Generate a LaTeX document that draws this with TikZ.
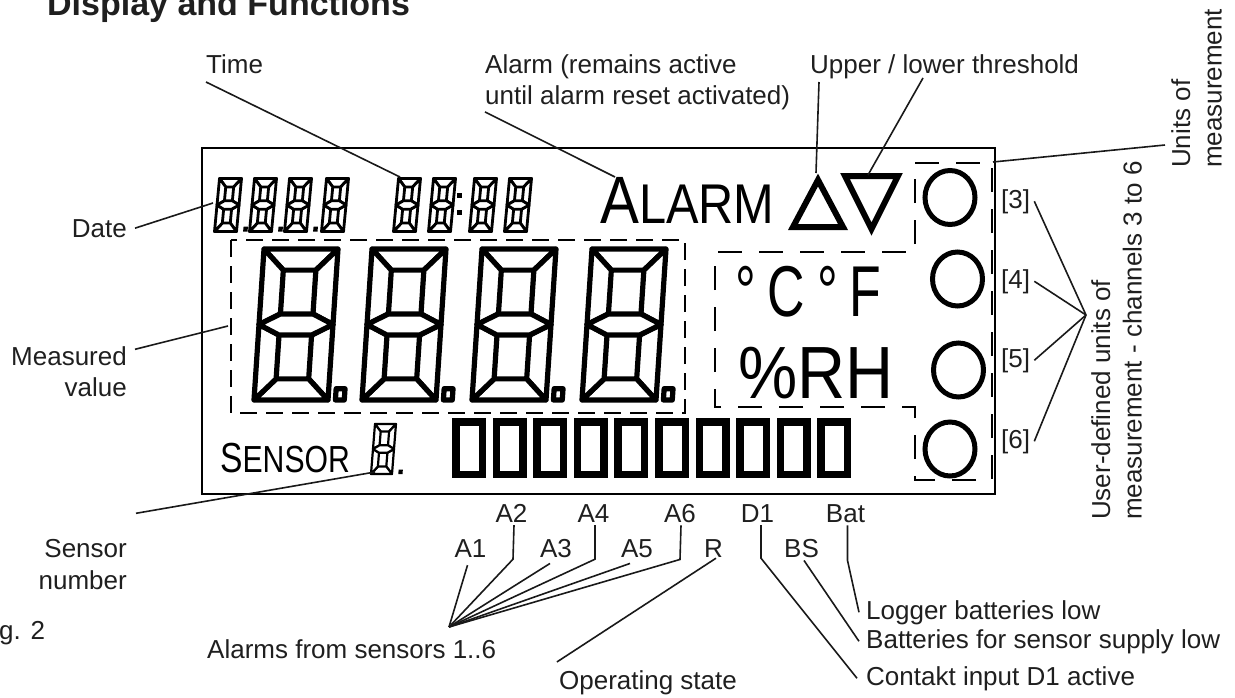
\documentclass[tikz,border=0pt]{standalone}
\usepackage{fontspec}
\setmainfont{Liberation Sans}
\usepackage{graphicx}
\newcommand\sevsegdraw[2]{%
  \begin{scope}[line width=#2]
    \path[seg] (0,2) -- (1,2) -- ({1-#1},{2-#1}) -- (#1,{2-#1}) -- cycle;
    \path[seg] (1,2) -- (1,1) -- ({1-#1},{1+#1/2}) -- ({1-#1},{2-#1}) -- cycle;
    \path[seg] (1,1) -- (1,0) -- ({1-#1},#1) -- ({1-#1},{1-#1/2}) -- cycle;
    \path[seg] (0,0) -- (1,0) -- ({1-#1},#1) -- (#1,#1) -- cycle;
    \path[seg] (0,0) -- (0,1) -- (#1,{1-#1/2}) -- (#1,#1) -- cycle;
    \path[seg] (0,1) -- (0,2) -- (#1,{2-#1}) -- (#1,{1+#1/2}) -- cycle;
    \path[seg] (0,1) -- (#1,{1+#1/2}) -- ({1-#1},{1+#1/2}) -- (1,1) -- ({1-#1},{1-#1/2}) -- (#1,{1-#1/2}) -- cycle;
  \end{scope}}
\tikzset{
  seg/.style={draw=black, fill=white, line join=round},
  pics/bigseg/.style={code={
    \sevsegdraw{0.28}{5.2pt}
    \path[seg, line width=5.2pt] (1.1,0) rectangle (1.22,0.15);
  }},
  pics/smallseg/.style={code={\sevsegdraw{0.32}{2.8pt}}},
  pics/smallsegdp/.style={code={
    \sevsegdraw{0.32}{2.8pt}
    \path[fill=black] (1.3,0) rectangle (1.5,0.18);
  }},
  pics/sensseg/.style={code={
    \sevsegdraw{0.3}{2.2pt}
    \path[fill=black] (1.3,0) rectangle (1.5,0.18);
  }},
  lbl/.style={font=\fontsize{26}{31.5}\selectfont, inner sep=0pt, text=black!88},
  lead/.style={line width=1.6pt, draw=black!90},
  dashbig/.style={line width=2pt, dash pattern=on 17pt off 9pt},
  dashunit/.style={line width=2pt, dash pattern=on 24pt off 17pt},
  bigdig/.style={xscale=74, yscale=75.5, xslant=0.0676},
  smalldig/.style={xscale=22, yscale=26.5, xslant=0.114},
  sensdig/.style={xscale=21, yscale=25, xslant=0.095},
  barcell/.style={line width=7.5pt},
  ring/.style={line width=5pt},
  tri/.style={line width=6pt, line join=miter},
}
\begin{document}
\begin{tikzpicture}[x=1pt,y=1pt]
\useasboundingbox (0,0) rectangle (1235,-697);

% title
\node[anchor=base west, inner sep=0pt, font=\bfseries\fontsize{34}{34}\selectfont, text=black!88] (title) at (47,-15) {Display and Functions};

% display frame
\draw[line width=1.3pt] (202,-148) rectangle (995,-494);

% date and time digits
\foreach \xx in {214.5,249.5,284.5} {
  \pic[smalldig] at (\xx,-231.5) {smallsegdp};
}
\pic[smalldig] at (321.5,-231.5) {smallseg};
\foreach \xx in {393.5,428.5,469.5,504.5} {
  \pic[smalldig] at (\xx,-231.5) {smallseg};
}
\fill (457,-193) rectangle (462,-198);
\fill (457,-210) rectangle (462,-215);

% big digits
\foreach \xx in {254,362,472,582} {
  \pic[bigdig] at (\xx,-400) {bigseg};
}
\draw[dashbig] (231,-240) rectangle (685,-413);

% sensor
\node[anchor=base west, inner sep=0pt] (sensortxt) at (220,-472) {\scalebox{0.8}[1]{\fontsize{42}{42}\selectfont S\fontsize{37.7}{37.7}\selectfont ENSOR}};
\pic[sensdig] at (371,-474) {sensseg};

% bar cells
\foreach \k in {0,...,9} {
  \draw[barcell] ({455.75+40.6*\k},-421.75) rectangle ++(26.5,-52.5);
}

% ALARM and triangles
\node[anchor=base west, inner sep=0pt] (alarmtxt) at (600,-223) {\scalebox{0.87}[1]{\fontsize{67}{67}\selectfont A\fontsize{56}{56}\selectfont LARM}};
\draw[tri] (818,-180) -- (793,-227) -- (843,-227) -- cycle;
\draw[tri] (845,-176) -- (898,-176) -- (871.5,-229) -- cycle;
\coordinate (triU) at (816,-173);
\coordinate (triD) at (868,-175);

% units
\node[anchor=base west, inner sep=0pt] (cf) at (735,-316) {\scalebox{0.72}[1]{\fontsize{72}{72}\selectfont °\hspace{16.7pt}C\hspace{16.7pt}°\hspace{15.3pt}F}};
\node[anchor=base west, inner sep=0pt] (rh) at (738,-398) {\scalebox{0.9}[1]{\fontsize{74}{74}\selectfont\%RH}};
\draw[dashunit] (915,-163) -- (992,-163) -- (992,-480) -- (915,-480) -- (915,-407) -- (715,-407) -- (715,-252) -- (915,-252) -- cycle;
\coordinate (ucorner) at (993,-162);

% rings
\draw[ring] (950,-197.5) ellipse [x radius=25, y radius=27];
\draw[ring] (957.5,-279) ellipse [x radius=25, y radius=27];
\draw[ring] (958.5,-370) ellipse [x radius=25, y radius=27];
\draw[ring] (950,-449) ellipse [x radius=25, y radius=27];

% channel labels
\node[lbl, anchor=base west] (u3) at (1001,-208) {[3]};
\node[lbl, anchor=base west] (u4) at (1001,-288) {[4]};
\node[lbl, anchor=base west] (u5) at (1001,-367) {[5]};
\node[lbl, anchor=base west] (u6) at (1001,-448) {[6]};
\coordinate (uconv) at (1086,-315);
\foreach \n in {u3,u4,u5,u6} { \draw[lead] ([xshift=4pt]\n.east) -- (uconv); }
\node[lbl, anchor=north west, align=left, rotate=90] (userdef) at (1091,-520) {User-defined units of\\measurement - channels 3 to 6};
\node[lbl, anchor=north west, align=left, rotate=90] (units) at (1171,-168) {Units of\\measurement};
\draw[lead] ([shift={(-6,23)}]units.north west) -- (ucorner);

% top labels
\node[lbl, anchor=base west] (time) at (206,-73) {Time};
\coordinate (pTime) at (400,-177);
\draw[lead] ([yshift=-9pt]time.base west) -- (pTime);
\node[lbl, anchor=north west, align=left] (alarm) at (485,-54.3) {Alarm (remains active\\until alarm reset activated)};
\coordinate (pAlarm) at (615,-177);
\draw[lead] ([yshift=-1.5pt]alarm.south west) -- (pAlarm);
\node[lbl, anchor=base west] (thr) at (810,-73) {Upper / lower threshold};
\draw[lead] ([shift={(9,-9)}]thr.base west) -- (triU);
\draw[lead] ([shift={(113,-5)}]thr.base west) -- (triD);

% left labels
\node[lbl, anchor=base east] (date) at (127,-237) {Date};
\coordinate (pDate) at (213,-203);
\draw[lead] ([xshift=8pt]date.east) -- (pDate);
\node[lbl, anchor=north east, align=right] (meas) at (127,-346.3) {Measured\\value};
\coordinate (pMeas) at (228,-326);
\draw[lead] ([shift={(8,-3)}]meas.north east) -- (pMeas);
\node[lbl, anchor=north east, align=right] (sens) at (127,-539.3) {Sensor\\number};
\coordinate (pSens) at (375,-472);
\draw[lead] ([shift={(9,26)}]sens.north east) -- (pSens);
\node[lbl, anchor=base west] (fig) at (-1,-639) {g. 2};

% bottom labels
\node[lbl, anchor=base] (a2) at (511.5,-522) {A2};
\node[lbl, anchor=base] (a4) at (593.5,-522) {A4};
\node[lbl, anchor=base] (a6) at (680,-522) {A6};
\node[lbl, anchor=base] (d1) at (757.5,-522) {D1};
\node[lbl, anchor=base] (bat) at (845.5,-522) {Bat};
\node[lbl, anchor=base] (a1) at (470.5,-557) {A1};
\node[lbl, anchor=base] (a3) at (556,-557) {A3};
\node[lbl, anchor=base] (a5) at (637,-557) {A5};
\node[lbl, anchor=base] (r) at (713.5,-557) {R};
\node[lbl, anchor=base] (bs) at (801.5,-557) {BS};
\node[lbl, anchor=base west] (alarms) at (207,-658) {Alarms from sensors 1..6};
\node[lbl, anchor=base] (op) at (648,-689) {Operating state};
\node[lbl, anchor=base west] (logbat) at (866,-619) {Logger batteries low};
\node[lbl, anchor=base west] (sensbat) at (866,-648) {Batteries for sensor supply low};
\node[lbl, anchor=base west] (d1act) at (866,-685) {Contakt input D1 active};

\coordinate (aconv) at (449,-627);
\draw[lead] ([shift={(-3,-8)}]a1.south) -- (aconv);
\draw[lead] ([shift={(2.5,-3)}]a2.south) -- ++(-1,-34) -- (aconv);
\draw[lead] ([shift={(-6,-6)}]a3.south) -- (aconv);
\draw[lead] ([shift={(1.5,-3)}]a4.south) -- ++(0,-34) -- (aconv);
\draw[lead] ([shift={(-7,-6)}]a5.south) -- (aconv);
\draw[lead] ([shift={(1,-3)}]a6.south) -- ++(-1,-34) -- (aconv);
\draw[lead] ([shift={(2.5,-1)}]r.south) -- ([shift={(-2,8)}]op.north west);
\draw[lead] ([shift={(3.5,-3)}]d1.south) -- ++(0,-33) -- ([xshift=-9pt]d1act.west);
\draw[lead] ([shift={(2.5,-3)}]bs.south) -- ([xshift=-7pt]sensbat.west);
\draw[lead] ([shift={(2,-3)}]bat.south) -- ++(0,-35) -- ([xshift=-7pt]logbat.west);
\end{tikzpicture}
\end{document}
